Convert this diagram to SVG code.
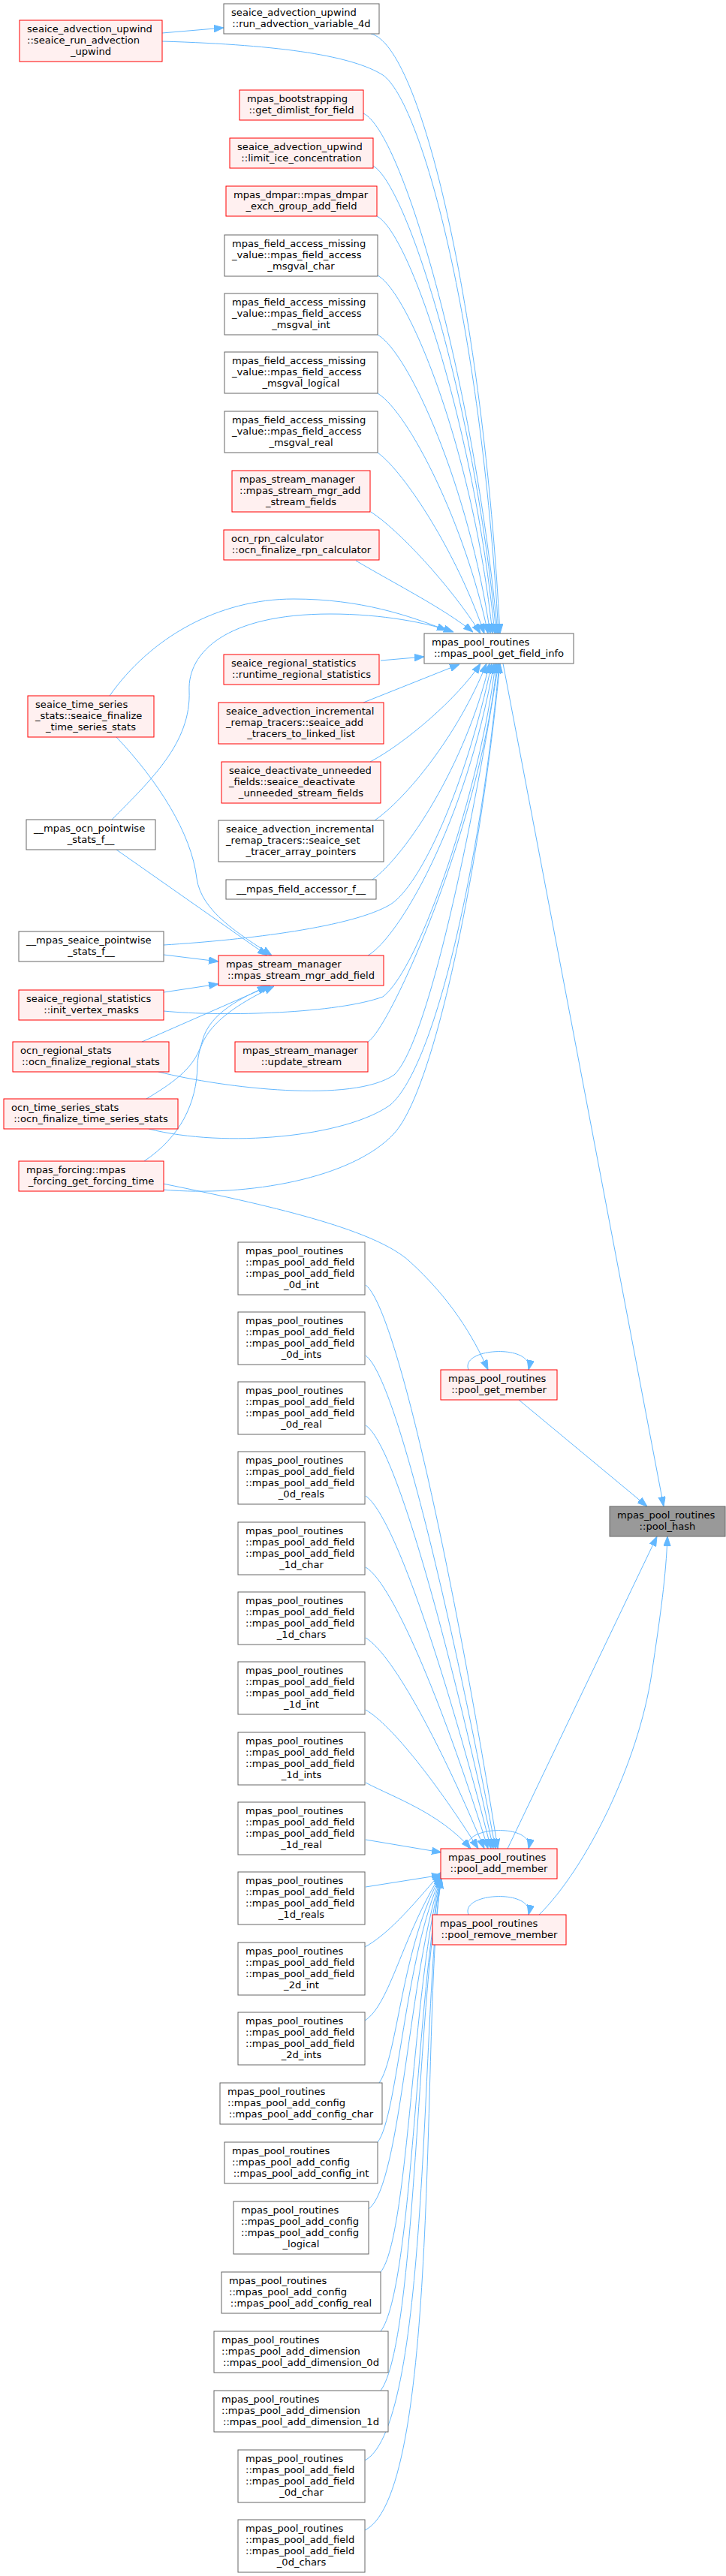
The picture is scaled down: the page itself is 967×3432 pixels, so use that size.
<svg xmlns="http://www.w3.org/2000/svg" width="967" height="3432" viewBox="0 0 967 3432">
<style>
text{font-family:"DejaVu Sans","Liberation Sans",sans-serif;font-size:13.1px;fill:#000}
.c{text-anchor:middle}
.r{fill:#fff0f0;stroke:#ff0000;stroke-width:1}
.g{fill:#ffffff;stroke:#666666;stroke-width:1}
.h{fill:#999999;stroke:#666666;stroke-width:1}
#edges path{fill:none;stroke:#63b8ff;stroke-width:1;marker-end:url(#a)}
</style>
<defs>
<marker id="a" markerWidth="13" markerHeight="10" refX="13" refY="4.7" orient="auto" markerUnits="userSpaceOnUse"><path d="M0,0 L13,4.7 L0,9.4 z" fill="#63b8ff" stroke="#63b8ff" stroke-width="1"/></marker>
</defs>
<rect width="967" height="3432" fill="#ffffff"/>
<g id="edges">
<path d="M216,44 L298,37"/>
<path d="M494,45 C560,60 643,410 666,844"/>
<path d="M216,55 C380,60 470,75 510,100 C560,135 640,420 664,844"/>
<path d="M484,151 C535,175 630,500 663,844"/>
<path d="M497,221 C540,245 630,520 661,844"/>
<path d="M502,288 C545,310 630,560 659,844"/>
<path d="M503,367 C545,390 630,600 656,844"/>
<path d="M503,446 C545,470 625,650 653,844"/>
<path d="M503,524 C545,550 620,700 650,844"/>
<path d="M503,603 C540,630 610,740 645,844"/>
<path d="M494,682 C530,705 600,780 640,844"/>
<path d="M474,747 C530,780 590,810 630,842"/>
<path d="M146,927 C200,850 290,798 391,798 C480,798 545,820 595,840"/>
<path d="M149,1092 C200,1040 255,990 252,920 C250,870 300,818 440,818 C510,818 570,830 604,842"/>
<path d="M507,880 L565,875"/>
<path d="M484,936 L612,885"/>
<path d="M493,1015 C540,990 610,930 640,884"/>
<path d="M499,1093 C540,1065 610,980 648,884"/>
<path d="M496,1172 C540,1140 620,1020 652,884"/>
<path d="M218,1259 C330,1252 470,1235 520,1205 C560,1180 620,1050 655,884"/>
<path d="M490,1273 C530,1250 620,1100 658,884"/>
<path d="M218,1347 C300,1355 450,1350 510,1328 C560,1290 640,1050 660,884"/>
<path d="M490,1388 C520,1370 640,1100 662,884"/>
<path d="M211,1428 C300,1450 470,1470 525,1432 C570,1390 630,1100 664,884"/>
<path d="M198,1504 C300,1530 460,1515 520,1472 C580,1420 640,1150 665,884"/>
<path d="M217,1585 C330,1595 470,1570 525,1510 C580,1450 640,1150 666,884"/>
<path d="M155,982 C210,1040 255,1110 262,1170 C268,1215 320,1245 362,1273"/>
<path d="M155,1132 L356,1273"/>
<path d="M218,1272 L291,1281"/>
<path d="M218,1322 L291,1311"/>
<path d="M189,1388 L360,1313"/>
<path d="M195,1464 C235,1440 262,1420 270,1385 C280,1350 320,1330 356,1314"/>
<path d="M192,1547 C240,1515 262,1470 263,1420 C264,1380 290,1350 365,1314"/>
<path d="M217,1577 C380,1610 500,1640 545,1680 C600,1730 630,1780 650,1825"/>
<path d="M624,1825 C612,1795 712,1790 704,1825"/>
<path d="M670,884 L884,2007"/>
<path d="M691,1865 L862,2007"/>
<path d="M676,2463 L875,2047"/>
<path d="M718,2551 C780,2490 850,2350 868,2230 C880,2150 887,2100 889,2047"/>
<path d="M624,2463 C612,2433 712,2428 704,2463"/>
<path d="M624,2551 C612,2521 712,2516 704,2551"/>
<path d="M487,1712 C530,1745 610,2130 663,2463"/>
<path d="M487,1806 C528,1835 605,2170 660,2463"/>
<path d="M487,1899 C528,1925 603,2210 657,2463"/>
<path d="M487,1993 C527,2020 600,2250 654,2463"/>
<path d="M487,2088 C525,2110 597,2290 650,2463"/>
<path d="M487,2182 C525,2205 592,2335 645,2463"/>
<path d="M487,2278 C522,2298 585,2380 637,2463"/>
<path d="M487,2375 C525,2395 585,2415 627,2463"/>
<path d="M487,2451 L588,2468"/>
<path d="M487,2514 L588,2498"/>
<path d="M486,2594 C515,2578 545,2545 588,2494"/>
<path d="M486,2692 C520,2670 535,2580 588,2496"/>
<path d="M505,2775 C530,2740 535,2590 588,2498"/>
<path d="M503,2854 C530,2820 540,2600 588,2500"/>
<path d="M491,2943 C535,2910 545,2620 588,2500"/>
<path d="M507,3027 C545,2980 550,2630 588,2501"/>
<path d="M507,3106 C550,3050 555,2640 588,2502"/>
<path d="M507,3185 C555,3120 555,2650 588,2502"/>
<path d="M486,3278 C575,3230 560,2660 588,2503"/>
<path d="M486,3371 C590,3320 560,2660 588,2503"/>
</g>
<g id="n1"><rect class="g" x="298" y="5" width="207" height="40"/><text x="308" y="21">seaice_advection_upwind</text><text class="c" x="401.5" y="36">::run_advection_variable_4d</text></g>
<g id="n2"><rect class="r" x="26" y="27" width="190" height="55"/><text x="36" y="43">seaice_advection_upwind</text><text x="36" y="58">::seaice_run_advection</text><text class="c" x="121" y="73">_upwind</text></g>
<g id="n3"><rect class="r" x="319" y="120" width="165" height="40"/><text x="329" y="136">mpas_bootstrapping</text><text class="c" x="401.5" y="151">::get_dimlist_for_field</text></g>
<g id="n4"><rect class="r" x="306" y="184" width="191" height="40"/><text x="316" y="200">seaice_advection_upwind</text><text class="c" x="401.5" y="215">::limit_ice_concentration</text></g>
<g id="n5"><rect class="r" x="301" y="248" width="201" height="40"/><text x="311" y="264">mpas_dmpar::mpas_dmpar</text><text class="c" x="401.5" y="279">_exch_group_add_field</text></g>
<g id="n6"><rect class="g" x="299" y="313" width="204" height="55"/><text x="309" y="329">mpas_field_access_missing</text><text x="309" y="344">_value::mpas_field_access</text><text class="c" x="401" y="359">_msgval_char</text></g>
<g id="n7"><rect class="g" x="299" y="391" width="204" height="55"/><text x="309" y="407">mpas_field_access_missing</text><text x="309" y="422">_value::mpas_field_access</text><text class="c" x="401" y="437">_msgval_int</text></g>
<g id="n8"><rect class="g" x="299" y="469" width="204" height="55"/><text x="309" y="485">mpas_field_access_missing</text><text x="309" y="500">_value::mpas_field_access</text><text class="c" x="401" y="515">_msgval_logical</text></g>
<g id="n9"><rect class="g" x="299" y="548" width="204" height="55"/><text x="309" y="564">mpas_field_access_missing</text><text x="309" y="579">_value::mpas_field_access</text><text class="c" x="401" y="594">_msgval_real</text></g>
<g id="n10"><rect class="r" x="309" y="627" width="184" height="55"/><text x="319" y="643">mpas_stream_manager</text><text x="319" y="658">::mpas_stream_mgr_add</text><text class="c" x="401" y="673">_stream_fields</text></g>
<g id="n11"><rect class="r" x="298" y="706" width="207" height="40"/><text x="308" y="722">ocn_rpn_calculator</text><text class="c" x="401.5" y="737">::ocn_finalize_rpn_calculator</text></g>
<g id="n12"><rect class="g" x="565" y="844" width="199" height="40"/><text x="575" y="860">mpas_pool_routines</text><text class="c" x="664.5" y="875">::mpas_pool_get_field_info</text></g>
<g id="n13"><rect class="r" x="298" y="872" width="207" height="40"/><text x="308" y="888">seaice_regional_statistics</text><text class="c" x="401.5" y="903">::runtime_regional_statistics</text></g>
<g id="n14"><rect class="r" x="37" y="927" width="168" height="55"/><text x="47" y="943">seaice_time_series</text><text x="47" y="958">_stats::seaice_finalize</text><text class="c" x="121" y="973">_time_series_stats</text></g>
<g id="n15"><rect class="r" x="291" y="936" width="220" height="55"/><text x="301" y="952">seaice_advection_incremental</text><text x="301" y="967">_remap_tracers::seaice_add</text><text class="c" x="401" y="982">_tracers_to_linked_list</text></g>
<g id="n16"><rect class="r" x="295" y="1015" width="212" height="55"/><text x="305" y="1031">seaice_deactivate_unneeded</text><text x="305" y="1046">_fields::seaice_deactivate</text><text class="c" x="401" y="1061">_unneeded_stream_fields</text></g>
<g id="n17"><rect class="g" x="35" y="1092" width="172" height="40"/><text x="45" y="1108">__mpas_ocn_pointwise</text><text class="c" x="121" y="1123">_stats_f__</text></g>
<g id="n18"><rect class="g" x="291" y="1093" width="220" height="55"/><text x="301" y="1109">seaice_advection_incremental</text><text x="301" y="1124">_remap_tracers::seaice_set</text><text class="c" x="401" y="1139">_tracer_array_pointers</text></g>
<g id="n19"><rect class="g" x="301" y="1172" width="200" height="26"/><text class="c" x="401" y="1189">__mpas_field_accessor_f__</text></g>
<g id="n20"><rect class="g" x="25" y="1241" width="193" height="40"/><text x="35" y="1257">__mpas_seaice_pointwise</text><text class="c" x="121.5" y="1272">_stats_f__</text></g>
<g id="n21"><rect class="r" x="291" y="1273" width="220" height="40"/><text x="301" y="1289">mpas_stream_manager</text><text class="c" x="401" y="1304">::mpas_stream_mgr_add_field</text></g>
<g id="n22"><rect class="r" x="25" y="1319" width="193" height="40"/><text x="35" y="1335">seaice_regional_statistics</text><text class="c" x="121.5" y="1350">::init_vertex_masks</text></g>
<g id="n23"><rect class="r" x="17" y="1388" width="208" height="40"/><text x="27" y="1404">ocn_regional_stats</text><text class="c" x="121" y="1419">::ocn_finalize_regional_stats</text></g>
<g id="n24"><rect class="r" x="313" y="1388" width="177" height="40"/><text x="323" y="1404">mpas_stream_manager</text><text class="c" x="401.5" y="1419">::update_stream</text></g>
<g id="n25"><rect class="r" x="5" y="1464" width="232" height="40"/><text x="15" y="1480">ocn_time_series_stats</text><text class="c" x="121" y="1495">::ocn_finalize_time_series_stats</text></g>
<g id="n26"><rect class="r" x="25" y="1547" width="193" height="40"/><text x="35" y="1563">mpas_forcing::mpas</text><text class="c" x="121.5" y="1578">_forcing_get_forcing_time</text></g>
<g id="n27"><rect class="g" x="317" y="1655" width="169" height="70"/><text x="327" y="1671">mpas_pool_routines</text><text x="327" y="1686">::mpas_pool_add_field</text><text x="327" y="1701">::mpas_pool_add_field</text><text class="c" x="401.5" y="1716">_0d_int</text></g>
<g id="n28"><rect class="g" x="317" y="1748" width="169" height="70"/><text x="327" y="1764">mpas_pool_routines</text><text x="327" y="1779">::mpas_pool_add_field</text><text x="327" y="1794">::mpas_pool_add_field</text><text class="c" x="401.5" y="1809">_0d_ints</text></g>
<g id="n29"><rect class="r" x="587" y="1825" width="155" height="40"/><text x="597" y="1841">mpas_pool_routines</text><text class="c" x="664.5" y="1856">::pool_get_member</text></g>
<g id="n30"><rect class="g" x="317" y="1841" width="169" height="70"/><text x="327" y="1857">mpas_pool_routines</text><text x="327" y="1872">::mpas_pool_add_field</text><text x="327" y="1887">::mpas_pool_add_field</text><text class="c" x="401.5" y="1902">_0d_real</text></g>
<g id="n31"><rect class="g" x="317" y="1934" width="169" height="70"/><text x="327" y="1950">mpas_pool_routines</text><text x="327" y="1965">::mpas_pool_add_field</text><text x="327" y="1980">::mpas_pool_add_field</text><text class="c" x="401.5" y="1995">_0d_reals</text></g>
<g id="n32"><rect class="h" x="812" y="2007" width="154" height="40"/><text x="822" y="2023">mpas_pool_routines</text><text class="c" x="889" y="2038">::pool_hash</text></g>
<g id="n33"><rect class="g" x="317" y="2028" width="169" height="70"/><text x="327" y="2044">mpas_pool_routines</text><text x="327" y="2059">::mpas_pool_add_field</text><text x="327" y="2074">::mpas_pool_add_field</text><text class="c" x="401.5" y="2089">_1d_char</text></g>
<g id="n34"><rect class="g" x="317" y="2121" width="169" height="70"/><text x="327" y="2137">mpas_pool_routines</text><text x="327" y="2152">::mpas_pool_add_field</text><text x="327" y="2167">::mpas_pool_add_field</text><text class="c" x="401.5" y="2182">_1d_chars</text></g>
<g id="n35"><rect class="g" x="317" y="2214" width="169" height="70"/><text x="327" y="2230">mpas_pool_routines</text><text x="327" y="2245">::mpas_pool_add_field</text><text x="327" y="2260">::mpas_pool_add_field</text><text class="c" x="401.5" y="2275">_1d_int</text></g>
<g id="n36"><rect class="g" x="317" y="2308" width="169" height="70"/><text x="327" y="2324">mpas_pool_routines</text><text x="327" y="2339">::mpas_pool_add_field</text><text x="327" y="2354">::mpas_pool_add_field</text><text class="c" x="401.5" y="2369">_1d_ints</text></g>
<g id="n37"><rect class="g" x="317" y="2401" width="169" height="70"/><text x="327" y="2417">mpas_pool_routines</text><text x="327" y="2432">::mpas_pool_add_field</text><text x="327" y="2447">::mpas_pool_add_field</text><text class="c" x="401.5" y="2462">_1d_real</text></g>
<g id="n38"><rect class="r" x="587" y="2463" width="155" height="40"/><text x="597" y="2479">mpas_pool_routines</text><text class="c" x="664.5" y="2494">::pool_add_member</text></g>
<g id="n39"><rect class="g" x="317" y="2494" width="169" height="70"/><text x="327" y="2510">mpas_pool_routines</text><text x="327" y="2525">::mpas_pool_add_field</text><text x="327" y="2540">::mpas_pool_add_field</text><text class="c" x="401.5" y="2555">_1d_reals</text></g>
<g id="n40"><rect class="r" x="576" y="2551" width="178" height="40"/><text x="586" y="2567">mpas_pool_routines</text><text class="c" x="665" y="2582">::pool_remove_member</text></g>
<g id="n41"><rect class="g" x="317" y="2588" width="169" height="70"/><text x="327" y="2604">mpas_pool_routines</text><text x="327" y="2619">::mpas_pool_add_field</text><text x="327" y="2634">::mpas_pool_add_field</text><text class="c" x="401.5" y="2649">_2d_int</text></g>
<g id="n42"><rect class="g" x="317" y="2681" width="169" height="70"/><text x="327" y="2697">mpas_pool_routines</text><text x="327" y="2712">::mpas_pool_add_field</text><text x="327" y="2727">::mpas_pool_add_field</text><text class="c" x="401.5" y="2742">_2d_ints</text></g>
<g id="n43"><rect class="g" x="293" y="2775" width="216" height="55"/><text x="303" y="2791">mpas_pool_routines</text><text x="303" y="2806">::mpas_pool_add_config</text><text class="c" x="401" y="2821">::mpas_pool_add_config_char</text></g>
<g id="n44"><rect class="g" x="299" y="2854" width="204" height="55"/><text x="309" y="2870">mpas_pool_routines</text><text x="309" y="2885">::mpas_pool_add_config</text><text class="c" x="401" y="2900">::mpas_pool_add_config_int</text></g>
<g id="n45"><rect class="g" x="311" y="2933" width="180" height="70"/><text x="321" y="2949">mpas_pool_routines</text><text x="321" y="2964">::mpas_pool_add_config</text><text x="321" y="2979">::mpas_pool_add_config</text><text class="c" x="401" y="2994">_logical</text></g>
<g id="n46"><rect class="g" x="295" y="3027" width="212" height="55"/><text x="305" y="3043">mpas_pool_routines</text><text x="305" y="3058">::mpas_pool_add_config</text><text class="c" x="401" y="3073">::mpas_pool_add_config_real</text></g>
<g id="n47"><rect class="g" x="285" y="3106" width="232" height="55"/><text x="295" y="3122">mpas_pool_routines</text><text x="295" y="3137">::mpas_pool_add_dimension</text><text class="c" x="401" y="3152">::mpas_pool_add_dimension_0d</text></g>
<g id="n48"><rect class="g" x="285" y="3185" width="232" height="55"/><text x="295" y="3201">mpas_pool_routines</text><text x="295" y="3216">::mpas_pool_add_dimension</text><text class="c" x="401" y="3231">::mpas_pool_add_dimension_1d</text></g>
<g id="n49"><rect class="g" x="317" y="3264" width="169" height="70"/><text x="327" y="3280">mpas_pool_routines</text><text x="327" y="3295">::mpas_pool_add_field</text><text x="327" y="3310">::mpas_pool_add_field</text><text class="c" x="401.5" y="3325">_0d_char</text></g>
<g id="n50"><rect class="g" x="317" y="3357" width="169" height="70"/><text x="327" y="3373">mpas_pool_routines</text><text x="327" y="3388">::mpas_pool_add_field</text><text x="327" y="3403">::mpas_pool_add_field</text><text class="c" x="401.5" y="3418">_0d_chars</text></g>
</svg>
